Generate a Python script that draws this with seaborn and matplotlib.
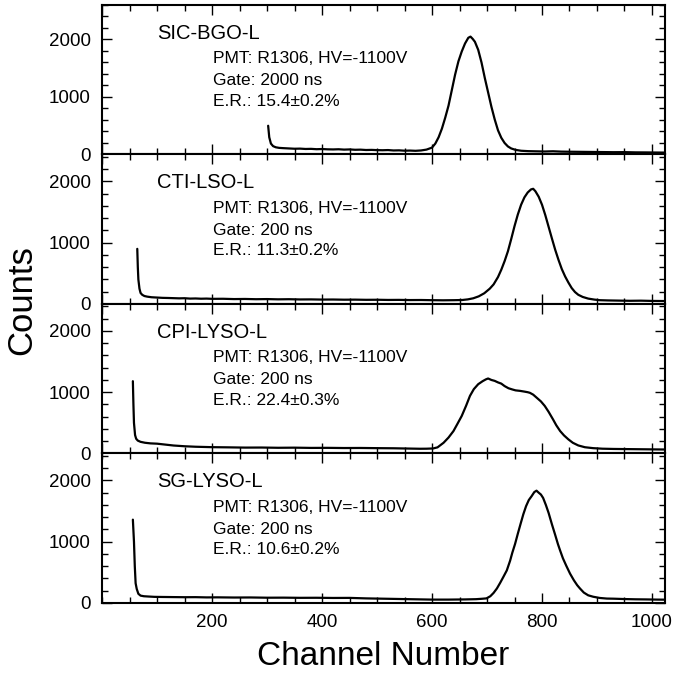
import matplotlib
matplotlib.use("Agg")
import matplotlib.pyplot as plt
import seaborn as sns
import pandas as pd
from matplotlib.ticker import MultipleLocator

sns.set_style("ticks")
plt.rcParams['font.family'] = ['Liberation Sans', 'DejaVu Sans']
plt.rcParams['text.color'] = 'black'
plt.rcParams['axes.labelcolor'] = 'black'
plt.rcParams['xtick.color'] = 'black'
plt.rcParams['ytick.color'] = 'black'

# ---------------- data ----------------
bgo_ch = [302, 304, 307, 311, 316, 322, 330, 340, 350, 360, 370, 380, 390, 400, 410, 420, 430, 440,
          450, 460, 470, 480, 490, 500, 510, 520, 530, 540, 550, 560, 570, 580, 590, 600, 606, 612,
          618, 624, 630, 636, 642, 648, 654, 660, 666, 670, 674, 678, 684, 690, 696, 702, 708, 714,
          720, 726, 732, 738, 744, 752, 762, 775, 790, 805, 820, 835, 850, 870, 890, 910, 930, 950,
          970, 990, 1010, 1023]
bgo_cnt = [500, 300, 190, 145, 125, 115, 110, 105, 100, 102, 96, 98, 92, 95, 90, 88, 91, 85,
           88, 82, 84, 78, 80, 76, 74, 77, 70, 72, 66, 68, 64, 70, 85, 120, 190, 300,
           450, 640, 850, 1120, 1390, 1620, 1790, 1930, 2030, 2050, 2010, 1960, 1820, 1600, 1330, 1080, 830, 610,
           420, 290, 200, 140, 105, 80, 65, 58, 55, 52, 56, 50, 48, 46, 44, 42, 40, 41,
           37, 36, 34, 33]

lso_ch = [64, 65, 66, 68, 70, 73, 77, 82, 90, 100, 110, 120, 130, 140, 150, 160, 170, 180, 190, 200,
          220, 240, 260, 280, 300, 320, 340, 360, 380, 400, 420, 440, 460, 480, 500, 520, 540, 560,
          580, 600, 620, 640, 655, 665, 675, 685, 695, 705, 712, 720, 726, 732, 738, 744, 750, 756,
          762, 768, 774, 780, 784, 788, 794, 800, 806, 812, 818, 824, 830, 836, 842, 848, 854, 860,
          866, 874, 884, 895, 905, 920, 940, 960, 980, 1000, 1023]
lso_cnt = [900, 600, 400, 250, 180, 150, 130, 120, 110, 105, 100, 98, 95, 92, 94, 88, 90, 86, 88, 84,
           85, 80, 82, 78, 80, 76, 78, 74, 75, 72, 73, 70, 71, 68, 69, 66, 67, 64,
           65, 62, 60, 62, 65, 75, 93, 125, 175, 250, 320, 440, 560, 700, 860, 1060, 1270, 1460,
           1620, 1740, 1820, 1870, 1880, 1840, 1750, 1620, 1450, 1260, 1070, 885, 720, 570, 450, 350, 260, 195,
           150, 115, 88, 72, 62, 58, 55, 52, 54, 50, 48]

cpi_ch = [56, 57, 58, 60, 62, 65, 70, 78, 88, 100, 115, 130, 150, 170, 200, 230, 260, 290, 320, 350,
          380, 410, 440, 470, 500, 530, 560, 578, 590, 602, 610, 621, 630, 639, 646, 654, 662, 669,
          676, 684, 692, 698, 702, 708, 714, 720, 726, 732, 739, 746, 752, 760, 768, 774,
          778, 784, 790, 798, 805, 812, 820, 826, 833, 840, 848, 856, 866, 878, 893, 910, 930, 950,
          970, 990, 1010, 1023]
cpi_cnt = [1180, 800, 500, 300, 240, 210, 190, 175, 165, 160, 145, 130, 118, 110, 103, 100, 96, 97, 93, 95,
           91, 92, 89, 90, 87, 85, 80, 77, 78, 82, 100, 175, 260, 366, 480, 612, 780, 940,
           1050, 1131, 1180, 1210, 1224, 1200, 1185, 1160, 1140, 1100, 1065, 1045, 1030, 1022, 1010, 1000,
           990, 960, 913, 850, 776, 680, 557, 460, 366, 295, 230, 175, 131, 102, 87, 78, 74, 72,
           70, 68, 66, 65]

sg_ch = [56, 58, 59.5, 61, 63, 66, 70, 76, 85, 95, 110, 130, 150, 170, 190, 210, 240, 270, 300, 330,
         360, 390, 420, 450, 480, 510, 540, 570, 600, 630, 660, 680, 690, 699, 706, 712, 718, 724,
         730, 736, 742, 746, 751, 756, 761, 766, 771, 776, 781, 786, 790, 794, 798, 802, 807, 812,
         818, 824, 829, 833, 838, 844, 851, 858, 864, 869, 876, 884, 893, 905, 918, 930, 950, 970,
         990, 1010, 1023]
sg_cnt = [1360, 1000, 600, 322, 230, 150, 120, 110, 105, 100, 98, 96, 94, 95, 91, 92, 89, 90, 86, 87,
          84, 85, 82, 83, 75, 70, 65, 60, 55, 55, 58, 62, 68, 75, 110, 165, 237, 330,
          430, 532, 690, 820, 963, 1130, 1290, 1447, 1580, 1680, 1742, 1810, 1833, 1800, 1770, 1715, 1600, 1470,
          1285, 1110, 960, 855, 730, 610, 479, 370, 290, 237, 170, 125, 102, 82, 72, 70, 64, 60,
          58, 55, 54]

names = ["SIC-BGO-L", "CTI-LSO-L", "CPI-LYSO-L", "SG-LYSO-L"]
gates = ["Gate: 2000 ns", "Gate: 200 ns", "Gate: 200 ns", "Gate: 200 ns"]
resolutions = ["E.R.: 15.4\u00b10.2%", "E.R.: 11.3\u00b10.2%", "E.R.: 22.4\u00b10.3%", "E.R.: 10.6\u00b10.2%"]
pmt = "PMT: R1306, HV=-1100V"
ytops = [2600, 2440, 2440, 2440]
series = [(bgo_ch, bgo_cnt), (lso_ch, lso_cnt), (cpi_ch, cpi_cnt), (sg_ch, sg_cnt)]

# ---------------- figure ----------------
fig = plt.figure(figsize=(6.76, 6.75), dpi=100)
left, right, bottom, top = 0.151, 0.984, 0.1067, 0.9926
h = (top - bottom) / 4
for i in range(4):
    ax = fig.add_axes([left, top - (i + 1) * h, right - left, h])
    ch, cnt = series[i]
    df = pd.DataFrame({"Channel": ch, "Counts": cnt})
    sns.lineplot(data=df, x="Channel", y="Counts", ax=ax, color="black", linewidth=1.6,
                 estimator=None, sort=False)
    ax.set_xlim(0, 1024)
    ax.set_ylim(0, ytops[i])
    ax.set_xlabel("")
    ax.set_ylabel("")
    ax.xaxis.set_major_locator(MultipleLocator(200))
    ax.xaxis.set_minor_locator(MultipleLocator(50))
    ax.yaxis.set_major_locator(MultipleLocator(1000))
    ax.yaxis.set_minor_locator(MultipleLocator(200))
    ax.tick_params(which="both", direction="in", top=True, right=True, width=1.0, colors="black")
    ax.tick_params(which="major", length=7, labelsize=13.5, pad=8)
    ax.tick_params(which="minor", length=4)
    for s in ax.spines.values():
        s.set_linewidth(1.5)
        s.set_color("black")
    ax.set_yticks([0, 1000, 2000])
    ax.set_yticklabels(["0", "1000", "2000"])
    if i < 3:
        ax.tick_params(axis="x", labelbottom=False)
    else:
        ax.set_xticks([200, 400, 600, 800, 1000])
    ax.text(0.098, 0.81, names[i], transform=ax.transAxes, fontsize=14.5, va="center", ha="left")
    ax.text(0.197, 0.64, pmt, transform=ax.transAxes, fontsize=12.5, va="center", ha="left")
    ax.text(0.197, 0.493, gates[i], transform=ax.transAxes, fontsize=12.5, va="center", ha="left")
    ax.text(0.197, 0.355, resolutions[i], transform=ax.transAxes, fontsize=12.5, va="center", ha="left")

fig.text(0.032, 0.555, "Counts", rotation=90, fontsize=25, va="center", ha="center")
fig.text(0.567, 0.027, "Channel Number", fontsize=24, va="center", ha="center")

fig.savefig("out.png", dpi=100)
